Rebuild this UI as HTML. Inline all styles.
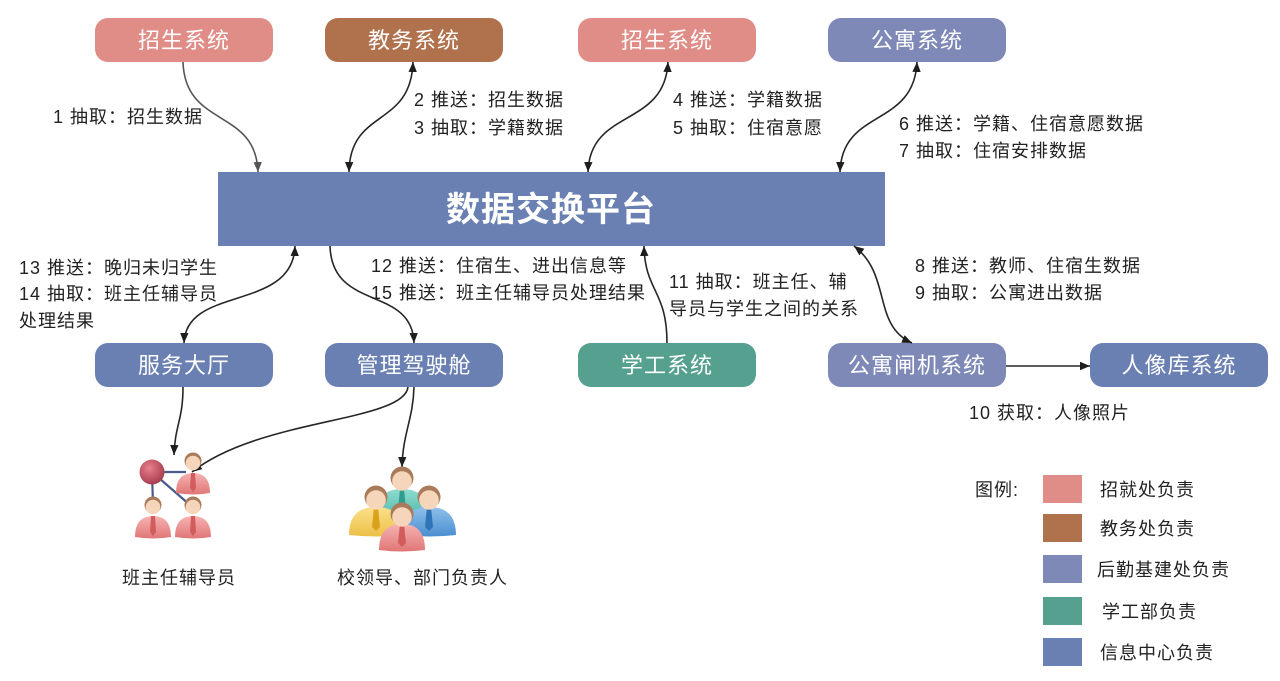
<!DOCTYPE html>
<html><head><meta charset="utf-8"><style>
html,body{margin:0;padding:0;background:#fff;}
svg{display:block;}
text{font-family:"Liberation Sans","Noto Sans CJK SC",sans-serif;}
.lb{font-size:18px;fill:#222;letter-spacing:1px;}
.bx{font-size:22px;fill:#fff;letter-spacing:1px;}
.ln{fill:none;stroke:#262626;stroke-width:1.6;}
</style></head><body>
<svg width="1280" height="681" viewBox="0 0 1280 681" xmlns="http://www.w3.org/2000/svg">
<defs>
<marker id="a" viewBox="0 0 10 10" refX="10" refY="5" markerWidth="10" markerHeight="10" markerUnits="userSpaceOnUse" orient="auto-start-reverse"><path d="M0,0.8 L10,5 L0,9.2 z" fill="#1e1e1e"/></marker>
<marker id="g" viewBox="0 0 10 10" refX="10" refY="5" markerWidth="10" markerHeight="10" markerUnits="userSpaceOnUse" orient="auto-start-reverse"><path d="M0,0.8 L10,5 L0,9.2 z" fill="#555"/></marker>
<radialGradient id="ball" cx="0.4" cy="0.35" r="0.7"><stop offset="0" stop-color="#e8808c"/><stop offset="1" stop-color="#a3384c"/></radialGradient>
<linearGradient id="pk" x1="0" y1="0" x2="0" y2="1"><stop offset="0" stop-color="#f6b2b2"/><stop offset="1" stop-color="#e07676"/></linearGradient>
<linearGradient id="yl" x1="0" y1="0" x2="0" y2="1"><stop offset="0" stop-color="#fbe08a"/><stop offset="1" stop-color="#ecc047"/></linearGradient>
<linearGradient id="bl" x1="0" y1="0" x2="0" y2="1"><stop offset="0" stop-color="#8fc0ea"/><stop offset="1" stop-color="#4a8fd0"/></linearGradient>
<linearGradient id="tl" x1="0" y1="0" x2="0" y2="1"><stop offset="0" stop-color="#8fdcd0"/><stop offset="1" stop-color="#4bb7a8"/></linearGradient>
</defs>

<!-- top boxes -->
<rect x="95" y="18" width="178" height="44" rx="13" fill="#df8d86"/>
<text class="bx" x="184" y="48" text-anchor="middle">招生系统</text>
<rect x="325" y="18" width="178" height="44" rx="13" fill="#b0714d"/>
<text class="bx" x="414" y="48" text-anchor="middle">教务系统</text>
<rect x="578" y="18" width="178" height="44" rx="13" fill="#df8d86"/>
<text class="bx" x="667" y="48" text-anchor="middle">招生系统</text>
<rect x="828" y="18" width="178" height="44" rx="13" fill="#7e89b8"/>
<text class="bx" x="917" y="48" text-anchor="middle">公寓系统</text>

<!-- main box -->
<rect x="218" y="172" width="667" height="74" fill="#6a80b2"/>
<text x="551" y="221" text-anchor="middle" font-size="34" font-weight="bold" fill="#fff" letter-spacing="1">数据交换平台</text>

<!-- bottom boxes -->
<rect x="95" y="343" width="178" height="44" rx="13" fill="#6a80b2"/>
<text class="bx" x="184" y="373" text-anchor="middle">服务大厅</text>
<rect x="325" y="343" width="178" height="44" rx="13" fill="#6a80b2"/>
<text class="bx" x="414" y="373" text-anchor="middle">管理驾驶舱</text>
<rect x="578" y="343" width="178" height="44" rx="13" fill="#55a08e"/>
<text class="bx" x="667" y="373" text-anchor="middle">学工系统</text>
<rect x="828" y="343" width="178" height="44" rx="13" fill="#7e89b8"/>
<text class="bx" x="917" y="373" text-anchor="middle">公寓闸机系统</text>
<rect x="1090" y="343" width="178" height="44" rx="13" fill="#6a80b2"/>
<text class="bx" x="1179" y="373" text-anchor="middle">人像库系统</text>

<!-- connectors -->
<path class="ln" style="stroke:#555" d="M183,62 C185,128 256,108 258,172" marker-end="url(#g)"/>
<path class="ln" d="M413,62 C411,128 350,108 349,172" marker-start="url(#a)" marker-end="url(#a)"/>
<path class="ln" d="M668,62 C665,128 590,108 588,172" marker-start="url(#a)" marker-end="url(#a)"/>
<path class="ln" d="M917,62 C914,128 842,108 840,172" marker-start="url(#a)" marker-end="url(#a)"/>
<path class="ln" d="M295,246 C293,312 186,285 184,343" marker-start="url(#a)" marker-end="url(#a)"/>
<path class="ln" d="M330,246 C332,312 412,285 414,343" marker-end="url(#a)"/>
<path class="ln" d="M667,343 C667,290 645,292 644,246" marker-end="url(#a)"/>
<path class="ln" d="M854,246 C892,275 872,325 912,343" marker-start="url(#a)" marker-end="url(#a)"/>
<path class="ln" d="M1006,366 L1090,366" marker-end="url(#a)"/>
<path class="ln" d="M183,387 C183,420 175,425 174,455" marker-end="url(#a)"/>
<path class="ln" d="M408,387 C404,422 260,418 192,472" marker-end="url(#a)"/>
<path class="ln" d="M414,387 C413,420 403,432 402,467" marker-end="url(#a)"/>

<!-- labels -->
<text class="lb" x="53" y="123">1 抽取：招生数据</text>
<text class="lb" x="414" y="106">2 推送：招生数据</text>
<text class="lb" x="414" y="134">3 抽取：学籍数据</text>
<text class="lb" x="673" y="106">4 推送：学籍数据</text>
<text class="lb" x="673" y="134">5 抽取：住宿意愿</text>
<text class="lb" x="899" y="130">6 推送：学籍、住宿意愿数据</text>
<text class="lb" x="899" y="157">7 抽取：住宿安排数据</text>
<text class="lb" x="19" y="274">13 推送：晚归未归学生</text>
<text class="lb" x="19" y="300">14 抽取：班主任辅导员</text>
<text class="lb" x="19" y="327">处理结果</text>
<text class="lb" x="371" y="272">12 推送：住宿生、进出信息等</text>
<text class="lb" x="371" y="299">15 推送：班主任辅导员处理结果</text>
<text class="lb" x="669" y="288">11 抽取：班主任、辅</text>
<text class="lb" x="669" y="315">导员与学生之间的关系</text>
<text class="lb" x="915" y="272">8 推送：教师、住宿生数据</text>
<text class="lb" x="915" y="299">9 抽取：公寓进出数据</text>
<text class="lb" x="969" y="419">10 获取：人像照片</text>

<!-- icon 1 -->
<g stroke="#4a5a8a" stroke-width="2.2">
<line x1="152" y1="472" x2="186" y2="472"/>
<line x1="152" y1="472" x2="153" y2="505"/>
<line x1="152" y1="472" x2="190" y2="505"/>
</g>
<circle cx="152" cy="472" r="12.5" fill="url(#ball)"/>
<g>
<path d="M176,493 Q176,473 193,473 Q210,473 210,493 Q193,496 176,493 Z" fill="url(#pk)"/>
<path d="M191,473 L195,473 L196,488 L193,492 L190,488 Z" fill="#d25c5c"/>
<circle cx="193" cy="461" r="8.5" fill="#a97b5b"/><circle cx="193" cy="463" r="7.3" fill="#f5d6ba"/>
</g>
<g>
<path d="M135,537 Q135,516 153,516 Q171,516 171,537 Q153,540 135,537 Z" fill="url(#pk)"/>
<path d="M151,516 L155,516 L156,532 L153,536 L150,532 Z" fill="#d25c5c"/>
<circle cx="153" cy="505" r="8.5" fill="#a97b5b"/><circle cx="153" cy="507" r="7.3" fill="#f5d6ba"/>
</g>
<g>
<path d="M175,537 Q175,516 193,516 Q211,516 211,537 Q193,540 175,537 Z" fill="url(#pk)"/>
<path d="M191,516 L195,516 L196,532 L193,536 L190,532 Z" fill="#d25c5c"/>
<circle cx="193" cy="505" r="8.5" fill="#a97b5b"/><circle cx="193" cy="507" r="7.3" fill="#f5d6ba"/>
</g>

<!-- icon 2 -->
<g>
<path d="M375,518 Q375,489 402,489 Q429,489 429,518 Q402,521 375,518 Z" fill="url(#tl)"/>
<path d="M400,489 L404,489 L406,510 L402,514 L398,510 Z" fill="#2f9c8c"/>
<circle cx="402" cy="478" r="11.5" fill="#a97b5b"/><circle cx="402" cy="481" r="9.8" fill="#f5d6ba"/>
</g>
<g>
<path d="M349,535 Q349,507 376,507 Q403,507 403,535 Q376,538 349,535 Z" fill="url(#yl)"/>
<path d="M374,507 L378,507 L380,527 L376,531 L372,527 Z" fill="#d9a21c"/>
<circle cx="376" cy="497" r="11.5" fill="#a97b5b"/><circle cx="376" cy="500" r="9.8" fill="#f5d6ba"/>
</g>
<g>
<path d="M402,535 Q402,507 429,507 Q456,507 456,535 Q429,538 402,535 Z" fill="url(#bl)"/>
<path d="M427,507 L431,507 L433,527 L429,531 L425,527 Z" fill="#2f73b8"/>
<circle cx="429" cy="497" r="11.5" fill="#a97b5b"/><circle cx="429" cy="500" r="9.8" fill="#f5d6ba"/>
</g>
<g>
<path d="M379,550 Q379,524 402,524 Q425,524 425,550 Q402,553 379,550 Z" fill="url(#pk)"/>
<path d="M400,524 L404,524 L406,543 L402,547 L398,543 Z" fill="#d25c5c"/>
<circle cx="402" cy="514" r="11.5" fill="#a97b5b"/><circle cx="402" cy="517" r="9.8" fill="#f5d6ba"/>
</g>

<text class="lb" x="122" y="584">班主任辅导员</text>
<text class="lb" x="337" y="584">校领导、部门负责人</text>

<!-- legend -->
<text class="lb" x="975" y="496">图例:</text>
<rect x="1043" y="475" width="39" height="28" fill="#df8d86"/>
<rect x="1043" y="514" width="39" height="28" fill="#b0714d"/>
<rect x="1043" y="555" width="39" height="28" fill="#7e89b8"/>
<rect x="1043" y="597" width="39" height="28" fill="#55a08e"/>
<rect x="1043" y="638" width="39" height="28" fill="#6a80b2"/>
<text class="lb" x="1100" y="496">招就处负责</text>
<text class="lb" x="1100" y="535">教务处负责</text>
<text class="lb" x="1097" y="576">后勤基建处负责</text>
<text class="lb" x="1102" y="618">学工部负责</text>
<text class="lb" x="1100" y="659">信息中心负责</text>
</svg>
</body></html>
